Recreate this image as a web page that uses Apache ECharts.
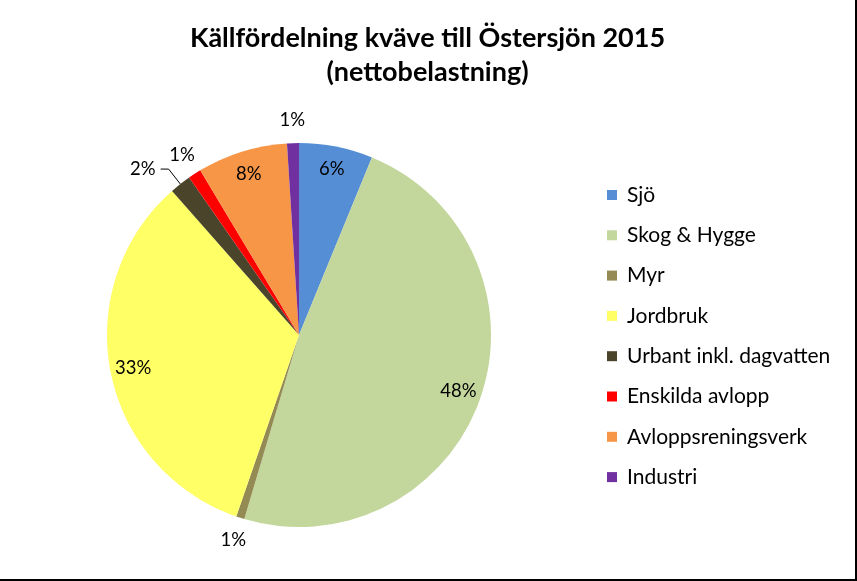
<!DOCTYPE html>
<html>
<head>
<meta charset="utf-8">
<script src="https://cdn.jsdelivr.net/npm/echarts@6/dist/echarts.min.js"></script>
<style>
html,body{margin:0;padding:0;background:#fff;}
#wrap{position:absolute;left:0;top:0;width:855px;height:579px;border-right:2px solid #000;border-bottom:2px solid #000;}
#chart{width:855px;height:579px;}
</style>
</head>
<body>
<div id="wrap"><div id="chart"></div></div>
<script>
const categories = ['Sjö','Skog & Hygge','Myr','Jordbruk','Urbant inkl. dagvatten','Enskilda avlopp','Avloppsreningsverk','Industri'];
const values = [6.2, 48.4, 0.7, 33.2, 1.8, 1.1, 7.6, 1.0];
const colors = ['#558ED5','#C3D69B','#948A54','#FFFF66','#4A452A','#FF0000','#F79646','#7030A0'];
const insideLabels = [0, 1, 3, 6];
const outsideLabels = [2, 5, 7];
const leaderLabels = [4];

const FONT = 'Lato, Carlito, "Open Sans", sans-serif';
const chart = echarts.init(document.getElementById('chart'));
const center = [299, 335];

function makeData(showSet, colored) {
  return categories.map((name, i) => ({
    name: name,
    value: values[i],
    itemStyle: { color: colored ? colors[i] : 'rgba(0,0,0,0)' },
    label: { show: showSet.includes(i) },
    labelLine: { show: colored && showSet.includes(i) }
  }));
}

const labelStyle = { fontFamily: FONT, fontSize: 18.5, color: '#000' };

chart.setOption({
  animation: false,
  title: {
    text: 'Källfördelning kväve till Östersjön 2015\n(nettobelastning)',
    left: 'center',
    top: 16,
    textStyle: { fontFamily: FONT, fontWeight: 'bold', fontSize: 27, lineHeight: 34, color: '#000' }
  },
  legend: {
    orient: 'vertical',
    left: 602,
    top: 179,
    itemWidth: 10,
    itemHeight: 10,
    itemGap: 18.3,
    icon: 'rect',
    data: categories,
    selectedMode: false,
    textStyle: { fontFamily: FONT, fontSize: 21, color: '#000', lineHeight: 22, padding: [0, 0, 0, 5] }
  },
  series: [
    {
      type: 'pie',
      center: center,
      radius: [0, 192],
      startAngle: 90,
      clockwise: true,
      avoidLabelOverlap: false,
      percentPrecision: 0,
      emphasis: { disabled: true },
      label: Object.assign({ position: 'outside', formatter: '{d}%', distanceToLabelLine: 5 }, labelStyle),
      labelLine: { length: 19, length2: 8, lineStyle: { color: '#000', width: 1 } },
      data: makeData(leaderLabels, true)
    },
    {
      type: 'pie',
      center: center,
      radius: [152, 180],
      startAngle: 90,
      clockwise: true,
      silent: true,
      avoidLabelOverlap: false,
      percentPrecision: 0,
      emphasis: { disabled: true },
      label: Object.assign({ position: 'inside', formatter: '{d}%' }, labelStyle),
      labelLine: { show: false },
      data: makeData(insideLabels, false)
    },
    {
      type: 'pie',
      center: center,
      radius: [198, 226],
      startAngle: 90,
      clockwise: true,
      silent: true,
      avoidLabelOverlap: false,
      percentPrecision: 0,
      emphasis: { disabled: true },
      label: Object.assign({ position: 'inside', formatter: '{d}%' }, labelStyle),
      labelLine: { show: false },
      data: makeData(outsideLabels, false)
    }
  ]
});
</script>
</body>
</html>
